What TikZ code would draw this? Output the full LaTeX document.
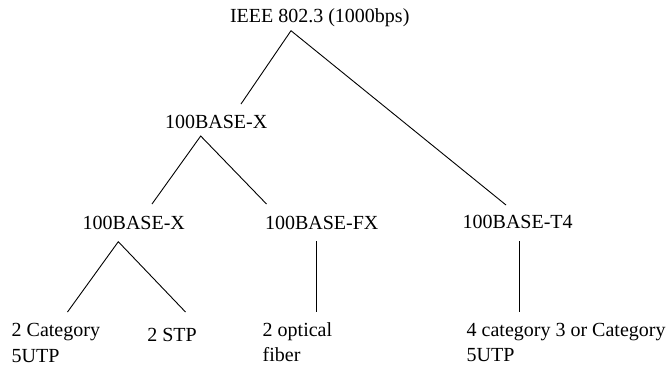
\documentclass[tikz,border=0pt]{standalone}
\usepackage{fontspec}
\setmainfont{Liberation Serif}
\begin{document}
\begin{tikzpicture}[x=1pt,y=-1pt,
  lbl/.style={inner sep=0pt,outer sep=0pt,anchor=base west,font=\fontsize{20}{24}\selectfont},
  conn/.style={draw=black,line width=0.9pt}]
\useasboundingbox[fill=white] (0,0) rectangle (670,370);
% labels
\node[lbl] (top) at (230,22.7) {IEEE 802.3 (1000bps)};
\node[lbl] (bx1) at (165,128.3) {100BASE-X};
\node[lbl] (bx2) at (82.7,229) {100BASE-X};
\node[lbl] (bfx) at (265,229) {100BASE-FX};
\node[lbl] (bt4) at (462.7,228.5) {100BASE-T4};
\node[lbl] (cat1) at (11.7,336.3) {2 Category};
\node[lbl] (cat2) at (11.7,362) {5UTP};
\node[lbl] (stp) at (147.3,341) {2 STP};
\node[lbl] (opt1) at (262.7,336.7) {2 optical};
\node[lbl] (opt2) at (262.7,361.7) {fiber};
\node[lbl] (four1) at (466.7,336.7) {4 category 3 or Category};
\node[lbl] (four2) at (466.7,361.7) {5UTP};
% connector end points
\coordinate (a0) at (291,30.7);
\coordinate (a0l) at (241,104);
\coordinate (a0r) at (506,205);
\coordinate (a1) at (200.7,136);
\coordinate (a1l) at (152,204);
\coordinate (a1r) at (266.5,204);
\coordinate (a2) at (118.3,241.7);
\coordinate (a2l) at (67.5,312);
\coordinate (a2r) at (185.5,312);
\coordinate (fxt) at (316.7,241);
\coordinate (fxb) at (316.7,312);
\coordinate (t4t) at (519.5,241);
\coordinate (t4b) at (519.5,312);
% connectors
\draw[conn] (a0l) -- (a0) -- (a0r);
\draw[conn] (a1l) -- (a1) -- (a1r);
\draw[conn] (a2l) -- (a2) -- (a2r);
\draw[conn] (fxt) -- (fxb);
\draw[conn] (t4t) -- (t4b);
\end{tikzpicture}
\end{document}
